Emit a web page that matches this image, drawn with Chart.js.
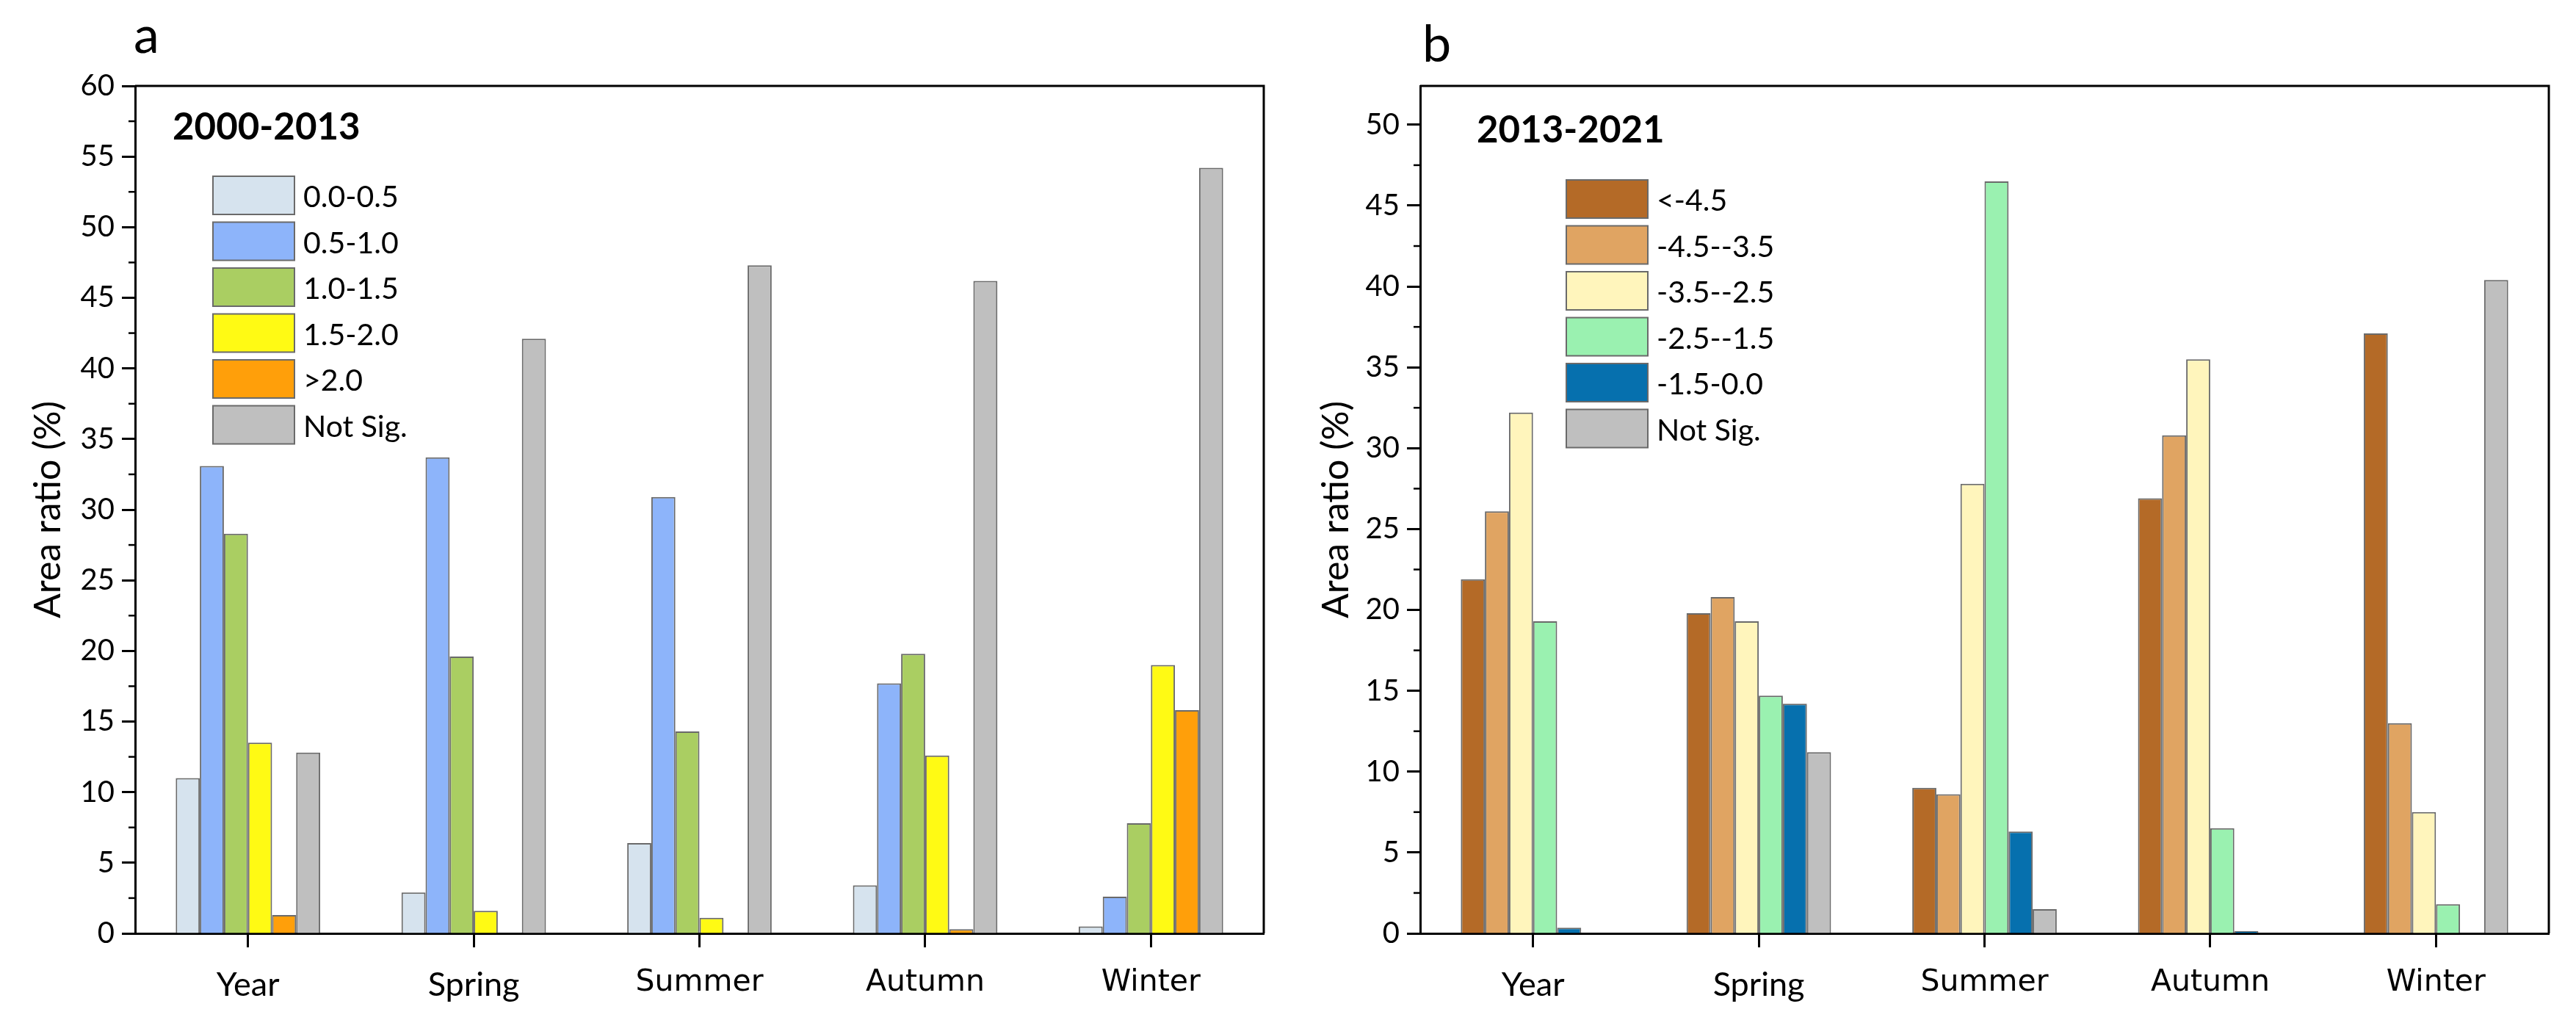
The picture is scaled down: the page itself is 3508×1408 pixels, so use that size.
<!DOCTYPE html>
<html>
<head>
<meta charset="utf-8">
<script src="https://cdn.jsdelivr.net/npm/chart.js@4"></script>
<style>
  body { margin: 0; background: #fff; }
  #wrap { position: relative; width: 3508px; height: 1408px; }
  canvas { position: absolute; top: 0; }
  #chartA { left: 0; }
  #chartB { left: 1754px; }
</style>
</head>
<body>
<div id="wrap">
  <canvas id="chartA" width="1754" height="1408"></canvas>
  <canvas id="chartB" width="1754" height="1408"></canvas>
</div>
<script>
const seasons = ['Year', 'Spring', 'Summer', 'Autumn', 'Winter'];

// panel a: 2000-2013
const labelsA = ['0.0-0.5', '0.5-1.0', '1.0-1.5', '1.5-2.0', '>2.0', 'Not Sig.'];
const colorsA = ['#D6E3EE', '#8DB4FA', '#AACE62', '#FFFA14', '#FF9F0A', '#BFBFBF'];
const a00_05 = [11.0, 2.9, 6.4, 3.4, 0.5];
const a05_10 = [33.1, 33.7, 30.9, 17.7, 2.6];
const a10_15 = [28.3, 19.6, 14.3, 19.8, 7.8];
const a15_20 = [13.5, 1.6, 1.1, 12.6, 19.0];
const aOver2 = [1.3, 0, 0, 0.3, 15.8];
const aNotSig = [12.8, 42.1, 47.3, 46.2, 54.2];

// panel b: 2013-2021
const labelsB = ['<-4.5', '-4.5--3.5', '-3.5--2.5', '-2.5--1.5', '-1.5-0.0', 'Not Sig.'];
const colorsB = ['#B46A27', '#E0A462', '#FFF5BC', '#9AF1B0', '#0670AE', '#BFBFBF'];
const bUnder45 = [21.9, 19.8, 9.0, 26.9, 37.1];
const b45_35 = [26.1, 20.8, 8.6, 30.8, 13.0];
const b35_25 = [32.2, 19.3, 27.8, 35.5, 7.5];
const b25_15 = [19.3, 14.7, 46.5, 6.5, 1.8];
const b15_00 = [0.35, 14.2, 6.3, 0.15, 0];
const bNotSig = [0, 11.2, 1.5, 0, 40.4];

const FONT = 'Lato, "Open Sans", sans-serif';

// frame, minor ticks, panel letter, period label and legend
const decor = {
  id: 'decor',
  afterDraw(chart, args, opts) {
    const ctx = chart.ctx;
    const area = chart.chartArea;
    const y = chart.scales.y;
    ctx.save();
    ctx.strokeStyle = '#000';
    ctx.lineWidth = 3;
    ctx.beginPath();
    ctx.moveTo(area.left, area.top);
    ctx.lineTo(area.right, area.top);
    ctx.lineTo(area.right, area.bottom);
    ctx.stroke();

    // minor ticks
    ctx.lineWidth = 2.5;
    for (let v = 2.5; v < y.max; v += 5) {
      const py = y.getPixelForValue(v);
      ctx.beginPath();
      ctx.moveTo(area.left - 9, py);
      ctx.lineTo(area.left, py);
      ctx.stroke();
    }

    ctx.fillStyle = '#000';
    ctx.textBaseline = 'alphabetic';
    ctx.textAlign = 'left';
    ctx.font = '70px ' + FONT;
    ctx.fillText(opts.letter, opts.letterX, opts.letterY);

    ctx.font = 'bold 51px ' + FONT;
    ctx.fillText(opts.period, opts.periodX, opts.periodY);

    ctx.font = '41px ' + FONT;
    ctx.textBaseline = 'middle';
    chart.data.datasets.forEach((ds, i) => {
      const top = opts.legendY + i * 62.5;
      ctx.fillStyle = ds.backgroundColor;
      ctx.fillRect(opts.legendX, top, 111, 52);
      ctx.strokeStyle = '#6a6a6a';
      ctx.lineWidth = 2;
      ctx.strokeRect(opts.legendX, top, 111, 52);
      ctx.fillStyle = '#000';
      ctx.fillText(ds.label, opts.legendX + 123, top + 29);
    });
    ctx.restore();
  }
};

function makeChart(id, labels, colors, series, yMax, yWidth, padRight, decorOpts) {
  new Chart(document.getElementById(id), {
    type: 'bar',
    data: {
      labels: seasons,
      datasets: series.map((d, i) => ({
        label: labels[i],
        data: d,
        backgroundColor: colors[i],
        borderColor: '#6a6a6a',
        borderWidth: 2,
        categoryPercentage: 0.64,
        barPercentage: 1.0
      }))
    },
    options: {
      responsive: false,
      devicePixelRatio: 1,
      animation: false,
      layout: { padding: { top: 117, right: padRight, left: 0, bottom: 0 } },
      plugins: {
        legend: { display: false },
        tooltip: { enabled: false },
        decor: decorOpts
      },
      scales: {
        x: {
          grid: {
            offset: false,
            drawOnChartArea: false,
            tickLength: 19,
            tickWidth: 3,
            tickColor: '#000'
          },
          border: { display: true, color: '#000', width: 3 },
          ticks: {
            color: '#000',
            padding: 24,
            font: (c) => c.index >= 2
              ? { family: '"DejaVu Sans"', size: 41 }
              : { family: FONT, size: 45 }
          },
          afterFit: (s) => { s.height = 137; }
        },
        y: {
          min: 0,
          max: yMax,
          grid: {
            drawOnChartArea: false,
            tickLength: 18,
            tickWidth: 3,
            tickColor: '#000'
          },
          border: { display: true, color: '#000', width: 3 },
          ticks: {
            stepSize: 5,
            includeBounds: false,
            color: '#000',
            padding: 10,
            font: { family: FONT, size: 40 }
          },
          title: {
            display: true,
            text: 'Area ratio (%)',
            color: '#000',
            font: { family: FONT, size: 50 },
            padding: { top: 36, bottom: 0 }
          },
          afterFit: (s) => { s.width = yWidth; }
        }
      }
    },
    plugins: [decor]
  });
}

makeChart('chartA', labelsA, colorsA,
  [a00_05, a05_10, a10_15, a15_20, aOver2, aNotSig],
  60, 184, 33,
  { letter: 'a', letterX: 182, letterY: 72, period: '2000-2013', periodX: 235, periodY: 190,
    legendX: 290, legendY: 240 });

makeChart('chartB', labelsB, colorsB,
  [bUnder45, b45_35, b35_25, b25_15, b15_00, bNotSig],
  52.4, 180, 37,
  { letter: 'b', letterX: 183, letterY: 84, period: '2013-2021', periodX: 257, periodY: 194,
    legendX: 379, legendY: 245 });
</script>
</body>
</html>
